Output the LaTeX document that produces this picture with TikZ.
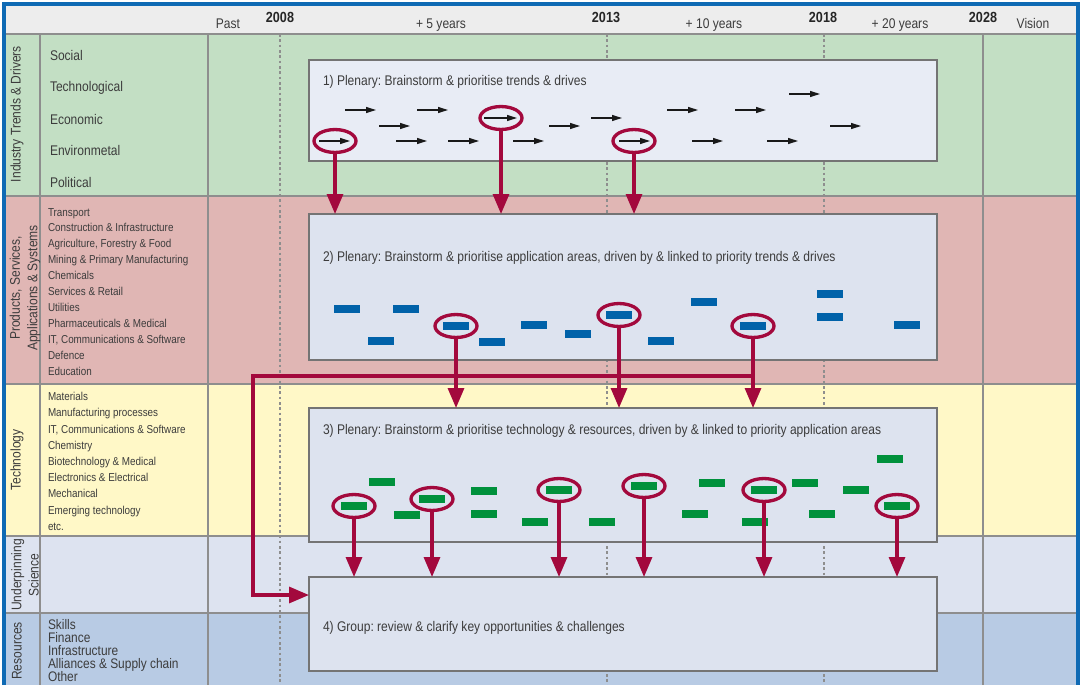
\documentclass[tikz,border=0pt]{standalone}
\usepackage{fontspec}
\setmainfont{Liberation Sans}[FakeStretch=0.86]
\usetikzlibrary{arrows.meta,shapes.geometric,fit}
\frenchspacing

\definecolor{ink}{HTML}{3C3C3C}
\definecolor{headbg}{HTML}{EDEDED}
\definecolor{trendbg}{HTML}{C3DFC4}
\definecolor{appbg}{HTML}{E0B6B4}
\definecolor{techbg}{HTML}{FFF8C7}
\definecolor{scibg}{HTML}{DDE3F0}
\definecolor{resbg}{HTML}{B8CBE4}
\definecolor{frameblue}{HTML}{0F6AB4}
\definecolor{rulegray}{HTML}{8E8E8E}
\definecolor{boxline}{HTML}{747474}
\definecolor{boxfillA}{HTML}{E8ECF5}
\definecolor{boxfill}{HTML}{DDE3EF}
\definecolor{wine}{HTML}{A3093D}
\definecolor{appblue}{HTML}{0062A9}
\definecolor{techgreen}{HTML}{00913C}

\begin{document}
\begin{tikzpicture}[x=0.75pt,y=-0.75pt,
  every node/.style={inner sep=0pt,outer sep=0pt,text=ink},
  bigfont/.style={font=\fontsize{10.5}{13}\selectfont},
  smallfont/.style={font=\fontsize{8.6}{10}\selectfont},
  hdr/.style={bigfont,anchor=base},
  yr/.style={font=\fontsize{11}{13}\selectfont\bfseries,text=black!85,anchor=base},
  item/.style={bigfont,anchor=base west},
  subitem/.style={smallfont,anchor=base west},
  resitem/.style={font=\fontsize{10.4}{12}\selectfont,anchor=base west},
  lanelabel/.style={bigfont,rotate=90,align=center},
  bandrule/.style={draw=rulegray,line width=1.1pt},
  colrule/.style={draw=rulegray,line width=0.9pt},
  yearline/.style={draw=rulegray,line width=0.9pt,dash pattern=on 2pt off 2pt},
  frameline/.style={draw=frameblue,line width=2.4pt},
  stagebox/.style={draw=boxline,fill=boxfill,line width=1pt,inner sep=0pt},
  stagetext/.style={bigfont,anchor=base west},
  trend/.style={draw=black!90,line width=1pt,-{Triangle[length=7.5pt,width=4.5pt]}},
  appbar/.style={fill=appblue,minimum width=20pt,minimum height=6.3pt},
  techbar/.style={fill=techgreen,minimum width=20pt,minimum height=6.3pt},
  ring/.style={ellipse,draw=wine,line width=2.5pt,minimum width=31.5pt,minimum height=17.2pt},
  link/.style={draw=wine,line width=2.4pt,-{Triangle[length=15pt,width=12pt]}}
]
\useasboundingbox (0,0) rectangle (1082,685);
\clip (0,0) rectangle (1082,685);
\fill[white] (0,0) rectangle (1082,685);

% horizontal lanes
\fill[headbg]  (4,4)   rectangle (1078,34);
\fill[trendbg] (4,34)  rectangle (1078,196);
\fill[appbg]   (4,196) rectangle (1078,384);
\fill[techbg]  (4,384) rectangle (1078,536);
\fill[scibg]   (4,536) rectangle (1078,613);
\fill[resbg]   (4,613) rectangle (1078,690);

% grid
\foreach \y in {34,196,384,536,613} \draw[bandrule] (4,\y) -- (1078,\y);
\foreach \x in {40,208,983} \draw[colrule] (\x,34) -- (\x,690);
\foreach \x in {280,607,824} \draw[yearline] (\x,34) -- (\x,690);
\draw[frameline] (4,690) -- (4,4) -- (1078,4) -- (1078,690);

% time axis
\node[hdr] (past) at (228,29) {Past};
\node[yr] (y2008) at (280,22.5) {2008};
\node[hdr] (p5) at (441,29) {+ 5 years};
\node[yr] (y2013) at (606,22.5) {2013};
\node[hdr] (p10) at (714,29) {+ 10 years};
\node[yr] (y2018) at (823,22.5) {2018};
\node[hdr] (p20) at (900,29) {+ 20 years};
\node[yr] (y2028) at (983,22.5) {2028};
\node[hdr] (vision) at (1033,29) {Vision};

% lane titles
\node[lanelabel] (lane1) at (17,114) {Industry Trends \& Drivers};
\node[lanelabel] (lane2) at (25,288) {Products, Services,\\Applications \& Systems};
\node[lanelabel] (lane3) at (17,460) {Technology};
\node[lanelabel] (lane4) at (25,575) {Underpinning\\Science};
\node[lanelabel] (lane5) at (17,651) {Resources};

% lane contents
\foreach \t/\y [count=\i] in {Social/61,Technological/92,Economic/124,Environmetal/155,Political/187}
  \node[item] (drv\i) at (50,\y) {\t};
\foreach \t [count=\i from 0] in {Transport,Construction \& Infrastructure,Agriculture{,} Forestry \& Food,Mining \& Primary Manufacturing,Chemicals,Services \& Retail,Utilities,Pharmaceuticals \& Medical,{IT, Communications \& Software},Defence,Education}
  \node[subitem] (sec\i) at (48,216+15.9*\i) {\t};
\foreach \t [count=\i from 0] in {Materials,Manufacturing processes,{IT, Communications \& Software},Chemistry,Biotechnology \& Medical,Electronics \& Electrical,Mechanical,Emerging technology,etc.}
  \node[subitem] (tec\i) at (48,400.7+16.2*\i) {\t};
\foreach \t [count=\i from 0] in {Skills,Finance,Infrastructure,Alliances \& Supply chain,Other}
  \node[resitem] (res\i) at (48,629+13.2*\i) {\t};

% workshop stages
\node[stagebox,fill=boxfillA,fit={(309,60) (937,161)}] (stage1) {};
\node[stagebox,fit={(309,214) (937,360)}] (stage2) {};
\node[stagebox,fit={(309,408) (937,542)}] (stage3) {};
\node[stagebox,fit={(309,577) (937,671)}] (stage4) {};
\node[stagetext] (s1) at (323,85) {1) Plenary: Brainstorm \& prioritise trends \& drives};
\node[stagetext] (s2) at (323,261) {2) Plenary: Brainstorm \& prioritise application areas, driven by \& linked to priority trends \& drives};
\node[stagetext] (s3) at (323,434) {3) Plenary: Brainstorm \& prioritise technology \& resources, driven by \& linked to priority application areas};
\node[stagetext] (s4) at (323,631) {4) Group: review \& clarify key opportunities \& challenges};

% stage 1: trends and drivers
\foreach \a/\b/\y in {789/820/94,
  345/376/110,417/448/110,667/698/110,735/766/110,
  484/517/118,591/622/118,
  379/410/126,549/580/126,830/861/126,
  319/350/141,396/427/141,448/479/141,513/544/141,619/650/141,692/723/141,767/798/141}
  \draw[trend] (\a,\y) -- (\b,\y);
\node[ring] (r1) at (335,141) {};
\node[ring] (r2) at (501,118) {};
\node[ring] (r3) at (634,141) {};

% stage 2: application areas
\foreach \x/\y [count=\i] in {347/309,406/309,381/341,456/326,492/342,534/325,578/334,619/315,661/341,704/302,753/326,830/294,830/317,907/325}
  \node[appbar] (a\i) at (\x,\y) {};
\node[ring] (ra1) at (a4) {};
\node[ring] (ra2) at (a8) {};
\node[ring] (ra3) at (a11) {};

% stage 3: technology and resources
\foreach \x/\y [count=\i] in {354/506,382/482,407/515,432/499,484/491,484/514,535/522,559/490,602/522,644/486,695/514,712/483,764/490,755/522,805/483,822/514,856/490,890/459,897/506}
  \node[techbar] (b\i) at (\x,\y) {};
\node[ring] (rb1) at (b1) {};
\node[ring] (rb2) at (b4) {};
\node[ring] (rb3) at (b8) {};
\node[ring] (rb4) at (b10) {};
\node[ring] (rb5) at (b13) {};
\node[ring] (rb6) at (b19) {};

% links between stages
\foreach \r in {r1,r2,r3}
  \draw[link] (\r.south) -- (\r.south |- stage2.north);
\foreach \r in {ra1,ra2,ra3}
  \draw[link] (\r.south) -- (\r.south |- stage3.north);
\foreach \r in {rb1,rb2,rb3,rb4,rb5,rb6}
  \draw[link] (\r.south) -- (\r.south |- stage4.north);

\coordinate (lvl) at (0,376);
\coordinate (entrylvl) at (0,595);
\coordinate (split) at (ra3.south |- lvl);
\coordinate (entry) at (stage4.west |- entrylvl);
\draw[link] (split) -- (253,376) |- (entry);
\end{tikzpicture}
\end{document}
